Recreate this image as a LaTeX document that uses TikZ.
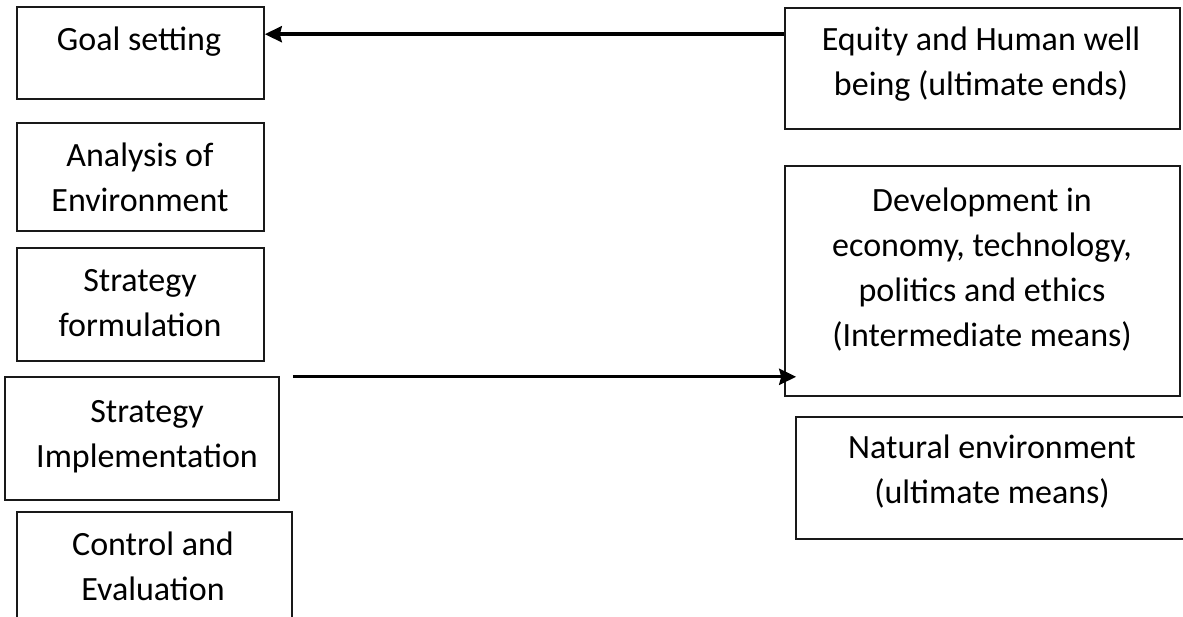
\documentclass[tikz,border=0pt]{standalone}
\usepackage{fontspec}
\setmainfont{Carlito}
\usetikzlibrary{arrows.meta}
\begin{document}
\begin{tikzpicture}[x=1pt,y=-1pt,
  box/.style={draw=black!90,line width=1.6pt,inner sep=0pt,minimum width=#1},
  txt/.style={anchor=base,align=center,inner sep=0pt,font=\fontsize{34}{45}\selectfont},
  arr/.style={line width=3.4pt,-{Stealth[length=17pt,width=16pt,inset=2pt]}}]
\useasboundingbox (0,0) rectangle (1183,617);
\clip (0,0) rectangle (1183,617);
% left column: management process
\node[box=247pt,minimum height=92pt]  (goal) at (140.5,53)  {};
\node[box=247pt,minimum height=108pt] (anal) at (140.5,177) {};
\node[box=247pt,minimum height=113pt] (form) at (140.5,304.5) {};
\node[box=274pt,minimum height=123pt] (impl) at (142,438.5) {};
\node[box=275pt,minimum height=138pt] (ctrl) at (154.5,581) {};
% the base anchor of a multi-line text sits on its last line
\node[txt] (tgoal) at (139,51)  {Goal setting};
\node[txt] (tanal) at (140,212) {Analysis of\\Environment};
\node[txt] (tform) at (140,337) {Strategy\\formulation};
\node[txt] (timpl) at (147,467) {Strategy\\Implementation};
\node[txt] (tctrl) at (153,600) {Control and\\Evaluation};
% right column: ends and means
\node[box=395pt,minimum height=121pt] (equity) at (982.5,68.5) {};
\node[box=395pt,minimum height=230pt] (dev)    at (982.5,281)  {};
\node[box=394pt,minimum height=122pt] (nat)    at (993,478)    {};
\node[txt] (tequity) at (981,96)  {Equity and Human well\\being (ultimate ends)};
\node[txt] (tdev)    at (982,347) {Development in\\economy, technology,\\politics and ethics\\(Intermediate means)};
\node[txt] (tnat)    at (992,503) {Natural environment\\(ultimate means)};
% connectors
\coordinate (a1) at ([yshift=-27pt]equity.north west);
\draw[arr] (a1) -- (goal.east |- a1);
\coordinate (a2) at ([xshift=12pt,yshift=20pt]dev.south west);
\draw[arr] (ctrl.east |- a2) -- (a2);
\end{tikzpicture}
\end{document}
